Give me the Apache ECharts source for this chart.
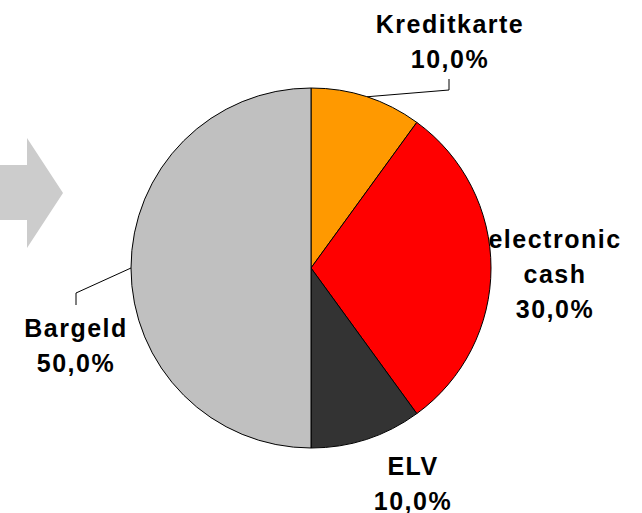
<!DOCTYPE html>
<html>
<head>
<meta charset="UTF-8">
<script src="https://cdn.jsdelivr.net/npm/echarts@6/dist/echarts.min.js"></script>
<style>
  html, body { margin: 0; padding: 0; background: #fff; }
  #chart { width: 642px; height: 513px; }
  #chart text { letter-spacing: 1.5px; }
</style>
</head>
<body>
<div id="chart"></div>
<script>
// Anteile der Zahlungsarten
const categories = ['Kreditkarte', 'electronic\ncash', 'ELV', 'Bargeld'];
const shares = [10, 30, 10, 50];
const colors = ['#FF9900', '#FF0000', '#333333', '#C0C0C0'];

// Label-Mitte je Segment
const labelPos = [[450, 41], [555, 274], [413, 483], [76, 345]];

const chart = echarts.init(document.getElementById('chart'), null, { renderer: 'svg' });

chart.setOption({
  animation: false,
  backgroundColor: '#fff',
  graphic: [{
    type: 'polygon',
    shape: { points: [[0, 165], [27, 165], [27, 138], [63, 193], [27, 248], [27, 220], [0, 220]] },
    style: { fill: '#CCCCCC' }
  }],
  series: [{
    type: 'pie',
    center: [311, 268],
    radius: 180,
    startAngle: 90,
    clockwise: true,
    itemStyle: { borderColor: '#000', borderWidth: 1 },
    label: {
      show: true,
      position: 'outside',
      overflow: 'none',
      fontFamily: 'Liberation Sans, Arial, sans-serif',
      fontWeight: 'bold',
      fontSize: 25,
      lineHeight: 35,
      color: '#000',
      align: 'center',
      formatter: p => p.name + '\n' + p.value.toFixed(1).replace('.', ',') + '%'
    },
    labelLine: { show: true, lineStyle: { color: '#000', width: 1 } },
    labelLayout: params => {
      const i = params.dataIndex;
      const out = { x: labelPos[i][0], y: labelPos[i][1], align: 'center', verticalAlign: 'middle' };
      const start = params.labelLinePoints ? params.labelLinePoints[0] : null;
      if (i === 0 && start) {
        out.labelLinePoints = [start, [449, 90], [449, 79]];
      } else if (i === 3 && start) {
        out.labelLinePoints = [start, [76, 293], [76, 305]];
      } else {
        out.labelLinePoints = start ? [start, start, start] : undefined;
      }
      return out;
    },
    data: categories.map((c, i) => ({
      name: c,
      value: shares[i],
      itemStyle: { color: colors[i] },
      labelLine: { show: i === 0 || i === 3 }
    }))
  }]
});
</script>
</body>
</html>
